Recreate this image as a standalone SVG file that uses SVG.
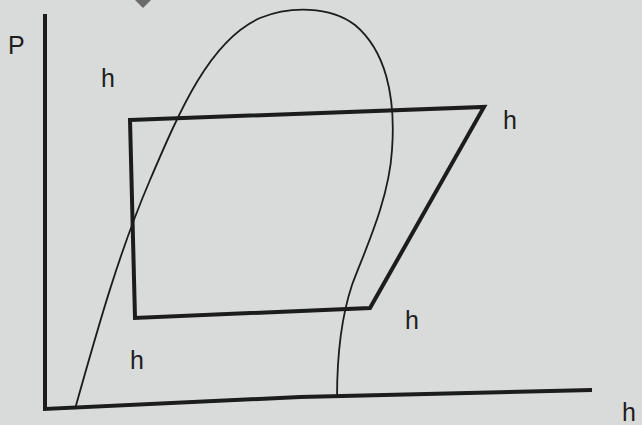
<svg xmlns="http://www.w3.org/2000/svg" width="642" height="425" viewBox="0 0 642 425">
<style>
.lbl{font-family:"Liberation Sans",Arial,sans-serif;font-size:25px;fill:#1e1e1e}
.thick{fill:none;stroke:#1c1c1c;stroke-width:4;stroke-linejoin:miter}
.thin{fill:none;stroke:#1c1c1c;stroke-width:1.8}
</style>
<rect width="642" height="425" fill="#d9dada"/>
<polygon points="131,-4 143,8 155,-4" fill="#6b6b6b"/>
<g id="axes">
<path class="thick" d="M45,14 L45,409 L300,397 L592,390" stroke-width="3.5"/>
</g>
<g id="dome">
<path class="thin" d="M75,409 C100,320 120,250 150,180 C180,110 210,40 260,18 C290,6 330,6 355,25 C385,50 396,95 392,150 C389,200 365,250 352,285 C342,315 337,350 337,398"/>
</g>
<g id="cycle">
<path class="thick" d="M130,120 L484,107 L370,308 L135,318 Z"/>
</g>
<g id="labels">
<text class="lbl" x="8" y="54">P</text>
<text class="lbl" x="101" y="87">h</text>
<text class="lbl" x="503" y="129">h</text>
<text class="lbl" x="405" y="329">h</text>
<text class="lbl" x="130" y="369">h</text>
<text class="lbl" x="622" y="421">h</text>
</g>
</svg>
